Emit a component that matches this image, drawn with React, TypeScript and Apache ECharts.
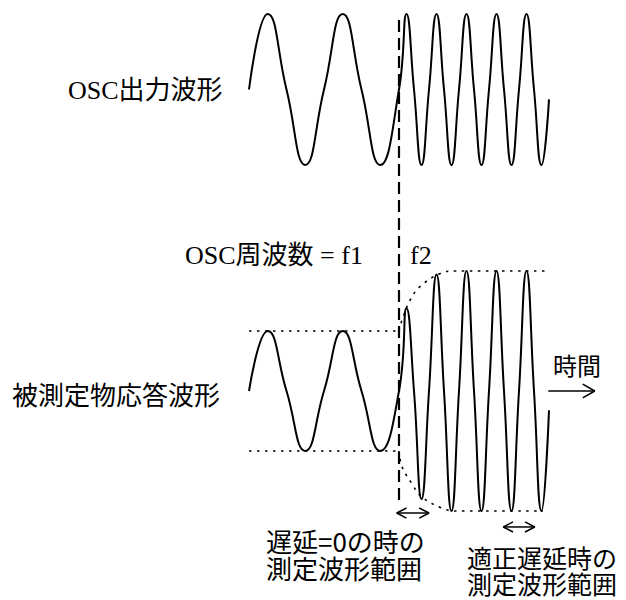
import React, { useEffect, useRef } from "react";
import * as echarts from "echarts";

// time axis (arbitrary units): f1 period = 10, f2 period = 4, switch at t = 20
const waveTimes = [0, 2.5, 5, 7.5, 10, 12.5, 15, 17.5, 20, 21, 22, 23, 24, 25, 26, 27, 28, 29, 30, 31, 32, 33, 34, 35, 36, 37, 38, 39, 40];
const oscValues = [0, 1, 0, -1, 0, 1, 0, -1, 0, 1, 0, -1, 0, 1, 0, -1, 0, 1, 0, -1, 0, 1, 0, -1, 0, 1, 0, -1, -0.13];
const responseValues = [0, 0.5, 0, -0.5, 0, 0.5, 0, -0.5, 0, 0.69, 0, -0.9, 0, 0.97, 0, -1, 0, 1, 0, -1, 0, 1, 0, -1, 0, 1, 0, -1, -0.16];

const switchTime = 20;
const f1Level = [[0, 0.5], [20, 0.5]];
const f1LevelLow = [[0, -0.5], [20, -0.5]];
const envelopeUpper = [[20, 0.5], [20.4, 0.59], [21.5, 0.76], [22.8, 0.87], [25.5, 0.98], [27.5, 1], [39.5, 1]];
const envelopeLower = [[20, -0.5], [20.4, -0.63], [21.7, -0.77], [23, -0.88], [25.5, -0.97], [27.5, -1], [39.2, -1]];

const timeArrowShaft = [[39.9, 0], [46.1, 0]];
const timeArrowHead = [[44.5, 0.058], [46.1, 0], [44.5, -0.058]];
const range0Shaft = [[19.7, -1.017], [24, -1.017]];
const range0HeadL = [[21, -0.975], [19.7, -1.017], [21, -1.059]];
const range0HeadR = [[22.7, -0.975], [24, -1.017], [22.7, -1.059]];
const rangeOkShaft = [[33.9, -1.133], [38.1, -1.133]];
const rangeOkHeadL = [[35.2, -1.091], [33.9, -1.133], [35.2, -1.175]];
const rangeOkHeadR = [[36.8, -1.091], [38.1, -1.133], [36.8, -1.175]];

const SERIF = '"Liberation Serif", "Noto Sans CJK JP", serif';
const SANS = '"Noto Sans CJK JP", sans-serif';

export default function App() {
  const ref = useRef<HTMLDivElement>(null);
  useEffect(() => {
    document.body.style.margin = "0";
    const chart = echarts.init(ref.current!, null, { renderer: "svg" });
    const black = "#000";
    const line = (data: any, grid: number, extra: any = {}) => ({
      type: "line",
      xAxisIndex: grid,
      yAxisIndex: grid,
      data,
      symbol: "none",
      clip: false,
      silent: true,
      lineStyle: { color: black, width: 2, ...(extra.lineStyle || {}) },
      smooth: extra.smooth ?? false,
    });
    const dotted = { type: [2.5, 5.5], width: 1.6 };
    const txt = (text: string, x: number, y: number, font = SERIF, size = 26, lineHeight?: number) => ({
      type: "text",
      x,
      y,
      style: {
        text,
        fill: black,
        font: `${size}px ${font}`,
        lineHeight: lineHeight ?? size,
        textVerticalAlign: "middle",
        textAlign: "left",
      },
    });
    const zip = (xs: number[], ys: number[]) => xs.map((x, i) => [x, ys[i]]);
    const xAx = (i: number) => ({ type: "value", gridIndex: i, min: 0, max: 50, show: false });
    chart.setOption({
      animation: false,
      backgroundColor: "#fff",
      grid: [
        { left: 249, width: 375, top: 14, height: 151 },
        { left: 249, width: 375, top: 247, height: 288 },
        { left: 249, width: 375, top: 14, height: 486 },
      ],
      xAxis: [xAx(0), xAx(1), xAx(2)],
      yAxis: [
        { type: "value", gridIndex: 0, min: -1, max: 1, show: false },
        { type: "value", gridIndex: 1, min: -1.2, max: 1.2, show: false },
        { type: "value", gridIndex: 2, min: 0, max: 1, show: false },
      ],
      series: [
        line(zip(waveTimes, oscValues), 0, { smooth: true }),
        line(zip(waveTimes, responseValues), 1, { smooth: true }),
        line(f1Level, 1, { lineStyle: dotted }),
        line(f1LevelLow, 1, { lineStyle: dotted }),
        line(envelopeUpper, 1, { lineStyle: dotted, smooth: 0.4 }),
        line(envelopeLower, 1, { lineStyle: dotted, smooth: 0.4 }),
        line([[switchTime, 0], [switchTime, 1]], 2, { lineStyle: { type: [12, 6], width: 2.2 } }),
        line(timeArrowShaft, 1, { lineStyle: { width: 1.5 } }),
        line(timeArrowHead, 1, { lineStyle: { width: 1.5 } }),
        line(range0Shaft, 1, { lineStyle: { width: 1.5 } }),
        line(range0HeadL, 1, { lineStyle: { width: 1.5 } }),
        line(range0HeadR, 1, { lineStyle: { width: 1.5 } }),
        line(rangeOkShaft, 1, { lineStyle: { width: 1.5 } }),
        line(rangeOkHeadL, 1, { lineStyle: { width: 1.5 } }),
        line(rangeOkHeadR, 1, { lineStyle: { width: 1.5 } }),
      ],
      graphic: [
        txt("OSC出力波形", 68, 90),
        txt("OSC周波数 = f1", 185, 255),
        txt("f2", 410, 255),
        txt("被測定物応答波形", 12, 393, SANS),
        txt("時間", 553, 364, SANS, 24),
        txt("遅延=0の時の\n測定波形範囲", 266, 553.5, SANS, 26, 27),
        txt("適正遅延時の\n測定波形範囲", 467, 570, SANS, 25, 26),
      ],
    });
    return () => chart.dispose();
  }, []);
  return <div ref={ref} style={{ width: 626, height: 600, position: "absolute", left: 0, top: 0 }} />;
}
